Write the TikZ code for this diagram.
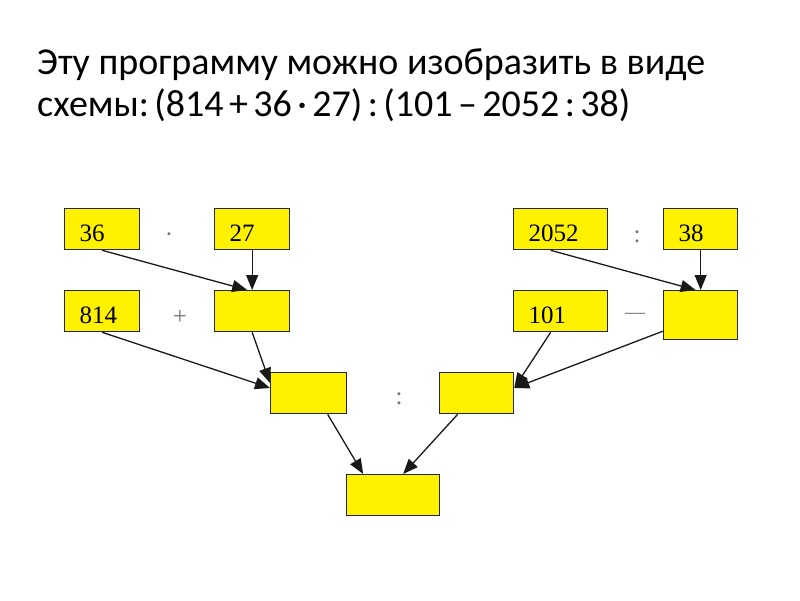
\documentclass[tikz,border=0pt]{standalone}
\usepackage{fontspec}
\setmainfont{Liberation Serif}
\newfontfamily\titlefont{Carlito}
\usetikzlibrary{arrows.meta}

\begin{document}
\begin{tikzpicture}[x=1pt,y=-1pt,
				every node/.style={inner sep=0pt},
				cell/.style={draw=black!85, line width=1.3pt, fill=yellow,
					anchor=north west, align=left, inner xsep=15pt,
					text width=#1, text height=33pt, text depth=8pt,
					font=\fontsize{25}{25}\selectfont},
				op/.style={anchor=base, text=black!55, font=\fontsize{25}{25}\selectfont},
				arr/.style={draw=black!90, line width=1.3pt,
					-{Triangle[length=15pt,width=12pt]}}]
	      \useasboundingbox (0,0) rectangle (800,600);
	      % Заголовок
	      \node[anchor=base west, align=left,
		  font=\titlefont\fontsize{38}{42}\selectfont\frenchspacing] (title) at (37,116)
		  {Эту программу можно изобразить в виде\\
		   {\spaceskip=5.4pt\relax схемы: (814 + 36 · 27) : (101 – 2052 : 38)}};
	      % Левая ветвь
	      \node[cell=45pt] (a36) at (64,208) {36};
	      \node[cell=45pt] (a27) at (214,208) {27};
	      \node[cell=45pt] (a814) at (64,290) {814};
	      \node[cell=45pt] (mul) at (214,290) {};
	      \node[cell=46pt] (sumL) at (270,372) {};
	      \node[op] (dot) at (169,242) {·};
	      \node[op] (plus) at (180,324) {+};
	      % Правая ветвь
	      \node[cell=64pt] (a2052) at (513,208) {2052};
	      \node[cell=44pt] (a38) at (663,208) {38};
	      \node[cell=64pt] (a101) at (513,290) {101};
	      \node[cell=44pt, text depth=16pt] (div) at (663,290) {};
	      \node[cell=44pt] (diffR) at (439,372) {};
	      \node[op] (colonR) at (637,242) {:};
	      \node[op, font=\fontsize{20}{20}\selectfont] (minus) at (635,318) {—};
	      % Результат
	      \node[op] (colonM) at (399,404) {:};
	      \node[cell=63pt] (res) at (346,474) {};
	      % Стрелки
	      \draw[arr] (a36.south) -- ([xshift=-5pt]mul.north);
	      \draw[arr] (a27.south) -- (mul.north);
	      \draw[arr] (a814.south) -- ([yshift=-16pt]sumL.north west);
	      \draw[arr] (mul.south) -- ([yshift=-11pt]sumL.north west);
	      \draw[arr] ([xshift=-10pt]a2052.south) -- ([xshift=-5pt]div.north);
	      \draw[arr] (a38.south) -- (div.north);
	      \draw[arr] ([xshift=-10pt]a101.south) -- ([yshift=-16pt]diffR.north east);
	      \draw[arr] ([yshift=-16pt]div.west) -- ([yshift=-16pt]diffR.north east);
	      \draw[arr] ([xshift=19pt]sumL.south) -- ([xshift=-30pt]res.north);
	      \draw[arr] ([xshift=-19pt]diffR.south) -- ([xshift=10pt]res.north);
\end{tikzpicture}
\end{document}
